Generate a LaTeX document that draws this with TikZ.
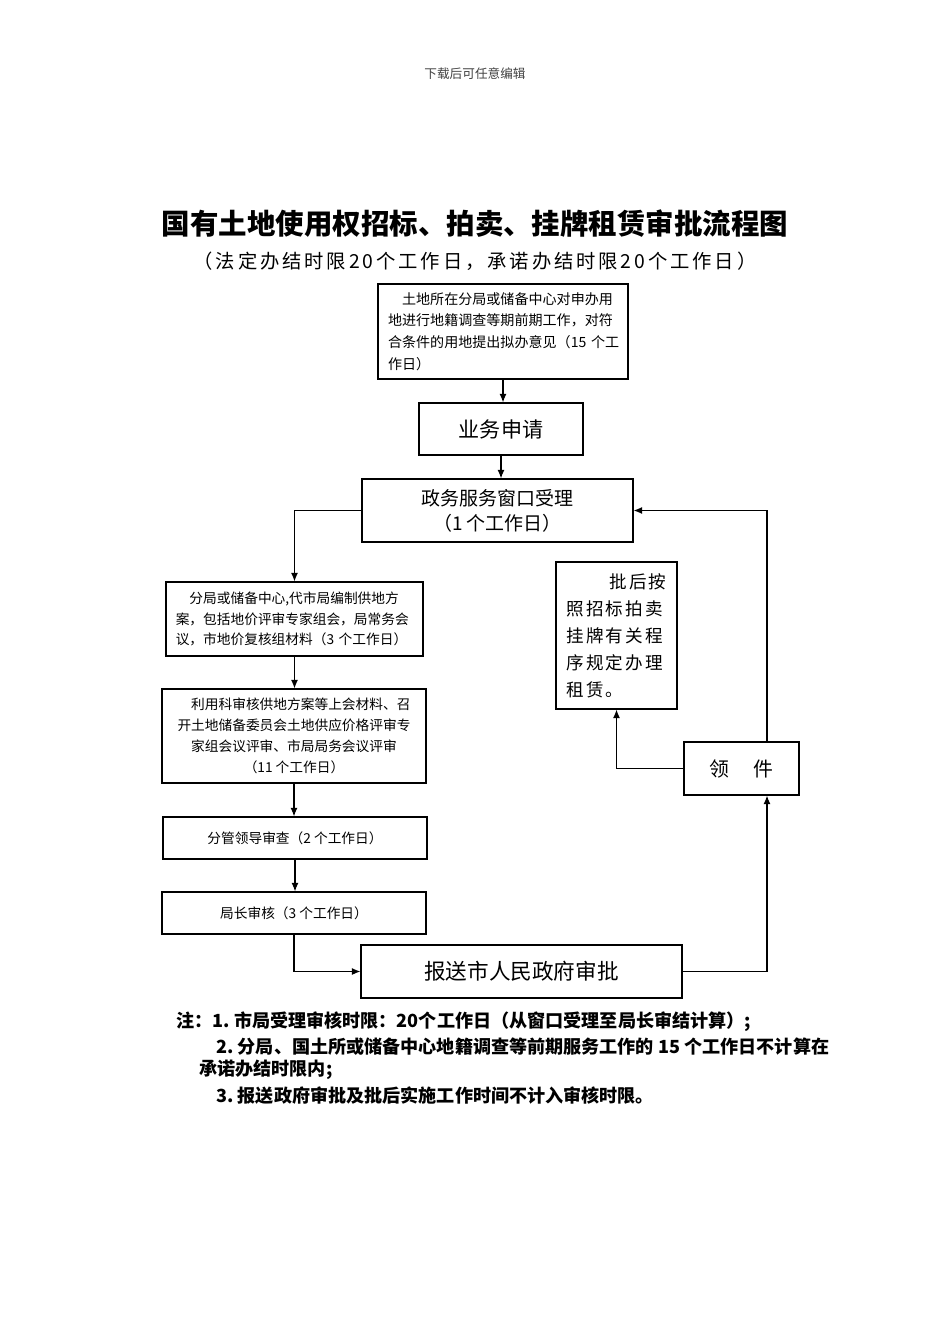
\documentclass[tikz,border=0pt]{standalone}
\usepackage{fontspec}
\setmainfont{Noto Sans CJK SC}
\usetikzlibrary{arrows.meta}

\begin{document}
\begin{tikzpicture}[x=0.02cm,y=-0.02cm,
	box/.style={draw, line width=0.75pt, inner sep=0pt},
	arr/.style={-{Latex[length=1.7mm,width=1.4mm]}, line width=0.6pt},
	note/.style={anchor=west, inner sep=0pt, font=\fontsize{10.3}{12}\selectfont\bfseries}]
	\useasboundingbox (0,0) rectangle (950,1344);
	% heading
	\node[font=\fontsize{7.2}{9}\selectfont, text=black!75] (hdr) at (475,74) {下载后可任意编辑};
	\node[font=\fontsize{16.2}{19}\selectfont\bfseries] (title) at (475,224) {国有土地使用权招标、拍卖、挂牌租赁审批流程图};
	\node[font=\fontsize{11}{13}\selectfont\addfontfeature{LetterSpace=15}] (sub) at (475,261) {（法定办结时限20个工作日，承诺办结时限20个工作日）};
	% boxes
	\node[box, minimum width=5cm, minimum height=1.9cm, text width=4.6cm, align=left, font=\fontsize{8}{12.3}\selectfont] (survey) at (503,331.5) {\hspace*{1em}土地所在分局或储备中心对申办用\\地进行地籍调查等期前期工作，对符\\\mbox{合条件的用地提出拟办意见（15~个工}\\作日）};
	\node[box, minimum width=3.28cm, minimum height=1.04cm, font=\fontsize{12}{14}\selectfont] (apply) at (501,429) {业务申请};
	\node[box, minimum width=5.42cm, minimum height=1.26cm, align=center, font=\fontsize{10.8}{14.2}\selectfont] (window) at (497.5,510.5) {政务服务窗口受理\\（1 个工作日）};
	\node[box, minimum width=5.14cm, minimum height=1.48cm, text width=4.75cm, align=left, font=\fontsize{7.8}{11.9}\selectfont] (plan) at (294.5,619) {\hspace*{1em}分局或储备中心,代市局编制供地方\\案，包括地价评审专家组会，局常务会\\议，市地价复核组材料（3 个工作日）};
	\node[box, minimum width=5.28cm, minimum height=1.88cm, align=center, font=\fontsize{7.8}{12}\selectfont] (review) at (294,736) {\hspace*{1em}利用科审核供地方案等上会材料、召\\开土地储备委员会土地供应价格评审专\\家组会议评审、市局局务会议评审\\（11 个工作日）};
	\node[box, minimum width=5.28cm, minimum height=0.84cm, font=\fontsize{7.8}{10}\selectfont] (leader) at (295,838) {分管领导审查（2 个工作日）};
	\node[box, minimum width=5.28cm, minimum height=0.84cm, font=\fontsize{7.8}{10}\selectfont] (director) at (294,913) {局长审核（3 个工作日）};
	\node[box, minimum width=6.42cm, minimum height=1.06cm, font=\fontsize{12.3}{14}\selectfont] (gov) at (521.5,971.5) {报送市人民政府审批};
	\node[box, minimum width=2.42cm, minimum height=2.94cm, text width=2cm, align=left, font=\fontsize{10}{15.4}\selectfont\addfontfeature{LetterSpace=12}] (lease) at (616.5,635.5) {\hfill 批后按\\照招标拍卖\\挂牌有关程\\序规定办理\\租赁。};
	\node[box, minimum width=2.3cm, minimum height=1.06cm, font=\fontsize{11.3}{13}\selectfont] (collect) at (741.5,768.5) {领\hspace{1.2em}件};
	% connectors
	\draw[arr] (survey.south) -- (survey.south |- apply.north);
	\draw[arr] (apply.south) -- (apply.south |- window.north);
	\draw[arr] (window.west) -| (plan.north);
	\draw[arr] (plan.south) -- (plan.south |- review.north);
	\draw[arr] (review.south) -- (review.south |- leader.north);
	\draw[arr] (leader.south) -- (leader.south |- director.north);
	\draw[arr] (director.south) |- (gov.west);
	\draw[arr] (gov.east) -| ([xshift=0.51cm]collect.south);
	\draw[arr] ([xshift=0.51cm]collect.north) |- (window.east);
	\draw[arr] (collect.west) -| (lease.south);
	% notes
	\node[note] (note1) at (176,1022) {注：1.\ 市局受理审核时限：20个工作日（从窗口受理至局长审结计算）;};
	\node[note] (note2) at (216,1047) {2.\ 分局、国土所或储备中心地籍调查等前期服务工作的 15 个工作日不计算在};
	\node[note] (note3) at (199,1070) {承诺办结时限内;};
	\node[note] (note4) at (216,1096) {3.\ 报送政府审批及批后实施工作时间不计入审核时限。};
\end{tikzpicture}
\end{document}
